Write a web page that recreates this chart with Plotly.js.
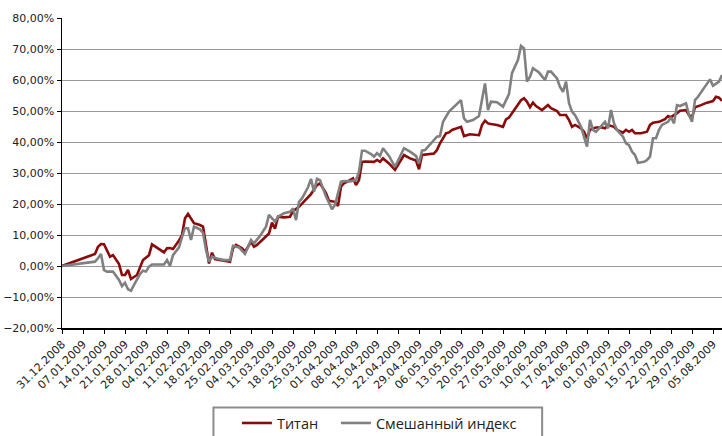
<!DOCTYPE html>
<html>
<head>
<meta charset="utf-8">
<script src="https://cdn.plot.ly/plotly-3.0.1.min.js"></script>
<style>html,body{margin:0;padding:0;background:#fff;}#chart{width:722px;height:436px;}</style>
</head>
<body>
<div id="chart"></div>
<script>
// Титан
const titanDates = ['2008-12-31','2009-01-11','2009-01-12','2009-01-13','2009-01-14','2009-01-15','2009-01-16','2009-01-17','2009-01-18','2009-01-19','2009-01-20','2009-01-21','2009-01-22','2009-01-23','2009-01-25','2009-01-26','2009-01-27','2009-01-29','2009-01-30','2009-02-01','2009-02-03','2009-02-04','2009-02-05','2009-02-06','2009-02-07','2009-02-08','2009-02-09','2009-02-10','2009-02-11','2009-02-12','2009-02-13','2009-02-15','2009-02-16','2009-02-17','2009-02-18','2009-02-19','2009-02-20','2009-02-22','2009-02-25','2009-02-26','2009-02-27','2009-03-01','2009-03-02','2009-03-04','2009-03-05','2009-03-06','2009-03-08','2009-03-10','2009-03-11','2009-03-12','2009-03-13','2009-03-15','2009-03-17','2009-03-18','2009-03-20','2009-03-22','2009-03-24','2009-03-26','2009-03-27','2009-03-29','2009-03-30','2009-04-01','2009-04-02','2009-04-03','2009-04-04','2009-04-06','2009-04-07','2009-04-08','2009-04-09','2009-04-10','2009-04-11','2009-04-14','2009-04-15','2009-04-16','2009-04-17','2009-04-19','2009-04-21','2009-04-24','2009-04-26','2009-04-28','2009-04-29','2009-04-30','2009-05-02','2009-05-04','2009-05-05','2009-05-06','2009-05-08','2009-05-09','2009-05-10','2009-05-12','2009-05-13','2009-05-14','2009-05-16','2009-05-19','2009-05-20','2009-05-21','2009-05-22','2009-05-23','2009-05-25','2009-05-27','2009-05-28','2009-05-29','2009-05-31','2009-06-02','2009-06-03','2009-06-04','2009-06-05','2009-06-06','2009-06-07','2009-06-09','2009-06-11','2009-06-12','2009-06-14','2009-06-15','2009-06-17','2009-06-18','2009-06-19','2009-06-20','2009-06-22','2009-06-23','2009-06-24','2009-06-25','2009-06-26','2009-06-27','2009-06-29','2009-06-30','2009-07-01','2009-07-03','2009-07-04','2009-07-06','2009-07-07','2009-07-08','2009-07-09','2009-07-10','2009-07-12','2009-07-14','2009-07-15','2009-07-16','2009-07-18','2009-07-20','2009-07-21','2009-07-22','2009-07-24','2009-07-25','2009-07-27','2009-07-28','2009-07-29','2009-07-30','2009-08-01','2009-08-03','2009-08-05','2009-08-06','2009-08-07','2009-08-08'];
const titanValues = [0,3.9,6.2,7.1,7.0,5.2,3.0,3.5,2.2,0.6,-2.9,-2.9,-1.3,-4.2,-2.9,-0.7,1.9,3.5,7.0,5.7,4.4,5.7,5.8,5.5,6.8,8.2,10.0,15.4,16.8,15.4,13.8,13.2,12.7,6.8,0.8,4.3,2.2,1.9,1.4,5.7,6.8,5.7,4.6,7.8,6.2,6.8,8.6,10.5,14.0,12.0,15.9,15.7,15.9,17.7,19.1,21.3,23.2,26.1,26.7,23.5,21.0,20.7,19.4,25.6,26.7,27.7,28.3,26.1,27.7,33.6,33.7,33.6,34.2,33.6,34.7,33.1,31.0,35.8,34.7,34.0,31.2,35.8,36.1,36.3,37.4,39.6,42.8,43.1,43.9,44.7,44.9,41.9,42.5,42.2,45.5,46.9,46.0,45.8,45.5,44.9,47.3,47.9,50.9,53.5,54.1,53.0,51.2,52.7,51.6,50.3,51.9,50.9,50.0,48.7,48.7,47.1,44.9,45.5,44.4,43.3,41.2,43.9,44.4,44.7,44.7,44.4,45.5,44.9,43.9,43.0,43.9,43.3,43.9,42.8,42.8,43.3,45.5,46.2,46.5,47.4,48.4,48.0,49.3,50.1,50.3,48.7,48.0,51.2,51.9,52.7,53.2,54.6,54.3,53.3];

// Смешанный индекс
const indexDates = ['2008-12-31','2009-01-11','2009-01-12','2009-01-13','2009-01-14','2009-01-15','2009-01-17','2009-01-18','2009-01-19','2009-01-20','2009-01-21','2009-01-22','2009-01-23','2009-01-24','2009-01-25','2009-01-26','2009-01-27','2009-01-28','2009-01-29','2009-01-30','2009-02-01','2009-02-03','2009-02-04','2009-02-05','2009-02-06','2009-02-08','2009-02-09','2009-02-10','2009-02-11','2009-02-12','2009-02-13','2009-02-15','2009-02-16','2009-02-17','2009-02-18','2009-02-19','2009-02-21','2009-02-23','2009-02-25','2009-02-26','2009-02-28','2009-03-02','2009-03-04','2009-03-05','2009-03-07','2009-03-09','2009-03-10','2009-03-11','2009-03-12','2009-03-13','2009-03-15','2009-03-17','2009-03-18','2009-03-19','2009-03-20','2009-03-21','2009-03-23','2009-03-24','2009-03-25','2009-03-26','2009-03-27','2009-03-29','2009-03-31','2009-04-01','2009-04-03','2009-04-04','2009-04-06','2009-04-08','2009-04-09','2009-04-10','2009-04-11','2009-04-13','2009-04-14','2009-04-15','2009-04-16','2009-04-17','2009-04-19','2009-04-21','2009-04-24','2009-04-26','2009-04-28','2009-04-29','2009-04-30','2009-05-01','2009-05-03','2009-05-05','2009-05-06','2009-05-07','2009-05-09','2009-05-11','2009-05-13','2009-05-14','2009-05-15','2009-05-17','2009-05-19','2009-05-21','2009-05-22','2009-05-23','2009-05-25','2009-05-27','2009-05-29','2009-05-30','2009-06-01','2009-06-02','2009-06-03','2009-06-04','2009-06-05','2009-06-06','2009-06-08','2009-06-10','2009-06-11','2009-06-12','2009-06-14','2009-06-15','2009-06-16','2009-06-17','2009-06-18','2009-06-19','2009-06-20','2009-06-22','2009-06-23','2009-06-24','2009-06-25','2009-06-26','2009-06-27','2009-06-29','2009-06-30','2009-07-01','2009-07-02','2009-07-03','2009-07-04','2009-07-06','2009-07-07','2009-07-08','2009-07-09','2009-07-10','2009-07-11','2009-07-13','2009-07-14','2009-07-15','2009-07-16','2009-07-17','2009-07-18','2009-07-19','2009-07-21','2009-07-22','2009-07-23','2009-07-24','2009-07-25','2009-07-27','2009-07-28','2009-07-29','2009-07-30','2009-07-31','2009-08-02','2009-08-04','2009-08-05','2009-08-07','2009-08-08'];
const indexValues = [0,1.4,2.5,3.9,-1.3,-1.8,-1.8,-3.2,-4.5,-6.5,-5.4,-7.5,-8.0,-6.1,-4.5,-2.6,-1.5,-1.8,-0.2,0.5,0.5,0.5,1.9,0.0,3.5,6.0,9.3,12.2,12.2,8.4,12.7,11.8,10.7,5.2,1.4,3.0,2.3,1.9,1.9,6.5,6.0,3.9,8.4,7.3,9.7,12.7,16.5,15.5,14.3,15.9,17.0,17.5,18.6,14.8,20.7,21.8,25.4,28.1,24.0,28.1,27.7,22.4,18.3,19.7,27.2,27.4,27.3,27.7,30.4,37.2,37.2,36.1,35.3,36.4,35.5,38.0,35.5,32.0,38.0,36.9,35.5,33.1,37.2,37.4,39.6,41.7,41.9,46.5,49.8,51.6,53.5,47.6,46.5,47.1,48.4,58.9,50.3,53.0,52.8,51.4,55.5,62.2,66.5,71.0,70.2,59.5,61.1,63.8,62.4,60.0,62.7,62.7,60.5,57.8,56.2,59.5,52.5,49.8,48.7,44.9,41.7,38.5,47.1,43.9,43.3,45.5,46.5,44.4,50.3,46.0,43.9,41.7,39.6,39.0,36.9,35.8,33.3,33.6,34.2,35.3,41.2,41.2,43.9,45.5,46.5,48.0,46.0,51.9,51.6,52.5,48.7,46.5,53.5,54.6,57.3,60.2,58.1,59.5,61.6];

const seriesNames = ['Титан', 'Смешанный индекс'];
const seriesColors = ['#8b0a0a', '#808080'];

const traces = [
  {x: titanDates, y: titanValues, name: seriesNames[0], type: 'scatter', mode: 'lines',
   line: {color: seriesColors[0], width: 2.6}, legend: 'legend'},
  {x: indexDates, y: indexValues, name: seriesNames[1], type: 'scatter', mode: 'lines',
   line: {color: seriesColors[1], width: 2.6}, legend: 'legend2'}
];

const legendFont = {family: 'Open Sans, DejaVu Sans, sans-serif', size: 14.5, color: '#222'};

const layout = {
  width: 722, height: 436,
  margin: {l: 62, r: 0, t: 18, b: 108, autoexpand: false},
  paper_bgcolor: '#ffffff', plot_bgcolor: '#ffffff',
  separators: ', ',
  font: {family: 'DejaVu Sans, Verdana, sans-serif', size: 11, color: '#222'},
  showlegend: true,
  legend: {
    orientation: 'h', x: 0.265, xanchor: 'left', y: -0.255, yanchor: 'top',
    borderwidth: 0, bgcolor: 'rgba(0,0,0,0)', font: legendFont, itemwidth: 30
  },
  legend2: {
    orientation: 'h', x: 0.415, xanchor: 'left', y: -0.255, yanchor: 'top',
    borderwidth: 0, bgcolor: 'rgba(0,0,0,0)', font: legendFont, itemwidth: 30
  },
  shapes: [{
    type: 'rect', xref: 'paper', yref: 'paper',
    x0: 0.2295, x1: 0.7275, y0: -0.2565, y1: -0.37,
    line: {color: '#8c8c8c', width: 2}, fillcolor: 'rgba(0,0,0,0)', layer: 'below'
  }],
  xaxis: {
    type: 'date',
    range: ['2008-12-31', '2009-08-08'],
    tick0: '2008-12-31', dtick: 7 * 24 * 3600 * 1000,
    tickformat: '%d.%m.%Y', tickangle: -45,
    ticks: 'outside', ticklen: 4, tickcolor: '#000',
    showline: true, linecolor: '#000', linewidth: 1.5,
    showgrid: false, zeroline: false,
    tickfont: {size: 11, color: '#222'}
  },
  yaxis: {
    range: [-20, 80], dtick: 10, tick0: 0,
    tickformat: '.2f', ticksuffix: '%',
    ticks: 'outside', ticklen: 4, tickcolor: '#000',
    showline: true, linecolor: '#000', linewidth: 1.5,
    showgrid: true, gridcolor: '#999', gridwidth: 1,
    zeroline: false,
    tickfont: {size: 11, color: '#222'}
  }
};

Plotly.newPlot('chart', traces, layout, {staticPlot: true, displayModeBar: false});
</script>
</body>
</html>
